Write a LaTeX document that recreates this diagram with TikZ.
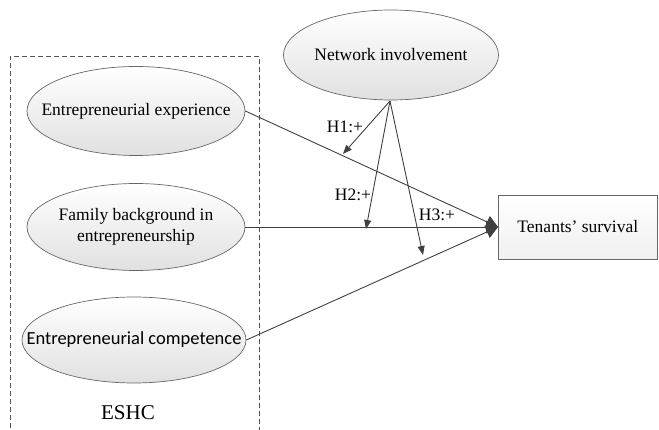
\documentclass[tikz,border=0pt]{standalone}
\usepackage{fontspec}
\setmainfont{Liberation Serif}
\newfontfamily\calib{Carlito}
\usetikzlibrary{shapes.geometric,arrows.meta}
\definecolor{linec}{HTML}{404040}
\tikzset{
  oval/.style={ellipse, draw=linec!80, line width=0.7pt, top color=white, bottom color=black!12,
    minimum width=218pt, minimum height=89pt, inner sep=0pt},
  ovaltext/.style={align=center, inner sep=0pt, font=\fontsize{17.5}{21}\selectfont},
  conn/.style={draw=linec, line width=0.9pt, -{Triangle[length=12pt,width=13pt]}},
  modarrow/.style={draw=linec, line width=0.9pt, -{Triangle[length=9pt,width=7pt]}},
  hlab/.style={font=\fontsize{17.5}{21}\selectfont, inner sep=0pt}
}
\begin{document}
\begin{tikzpicture}[x=1pt,y=-1pt]
\useasboundingbox (0,0) rectangle (659,430);
% dashed frame
\draw[draw=linec!90, line width=0.8pt, dash pattern=on 5pt off 3pt] (10,436) -- (10,56) -- (259,56) -- (259,436);
\node[hlab, font=\fontsize{21}{25}\selectfont] (eshc) at (128,413) {ESHC};
% nodes
\node[oval] (ee) at (136,111) {};
\node[ovaltext] (eet) at (ee.center) {Entrepreneurial experience};
\node[oval, minimum height=87pt] (fb) at (136,227) {};
\node[ovaltext] (fbt) at (fb.center) {Family background in\\entrepreneurship};
\node[oval, minimum width=224pt, minimum height=86pt] (ec) at (134,340) {};
\node[ovaltext, font=\calib\fontsize{18.5}{22}\selectfont] (ect) at (ec.center) {Entrepreneurial competence};
\node[oval, minimum width=215pt, minimum height=90pt] (ni) at (391,55) {};
\node[ovaltext] (nit) at (ni.center) {Network involvement};
\node[draw=linec!80, line width=0.7pt, top color=white, bottom color=black!6,
      minimum width=159pt, minimum height=64pt, inner sep=0pt, anchor=west,
      font=\fontsize{17.5}{21}\selectfont] (ts) at (498,227) {Tenants’ survival};
% main connectors
\draw[conn] (ee.east) -- (ts.west);
\draw[conn] (fb.east) -- (ts.west);
\draw[conn] (ec.east) -- (ts.west);
% moderation arrows
\coordinate (h1) at (343,154);
\coordinate (h2) at (366,229);
\coordinate (h3) at (423,255);
\coordinate (nis) at (390,101);
\draw[modarrow] (nis) -- (h1);
\draw[modarrow] (nis) -- (h2);
\draw[modarrow] (nis) -- (h3);
\node[hlab] (l1) at (345,127) {H1:+};
\node[hlab] (l2) at (353,195) {H2:+};
\node[hlab] (l3) at (437,215) {H3:+};
\end{tikzpicture}
\end{document}
